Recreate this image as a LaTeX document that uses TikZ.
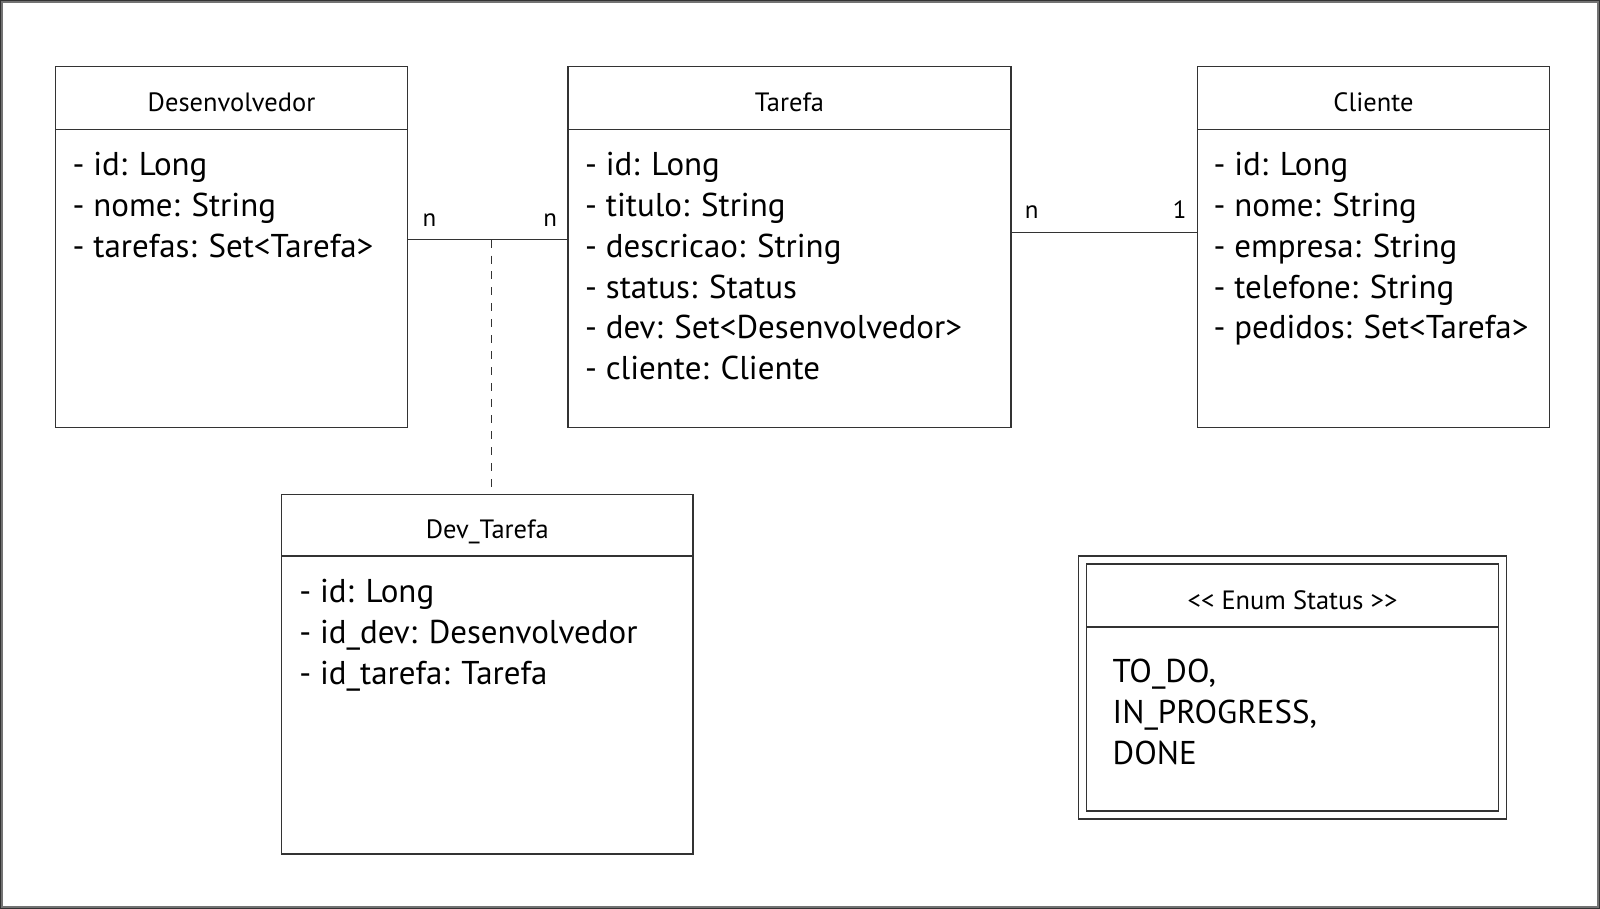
\documentclass[tikz,border=0pt]{standalone}
\usepackage{fontspec}
\setmainfont{PT Sans}
\usetikzlibrary{positioning}

\begin{document}
\begin{tikzpicture}[x = 1pt, y = -1pt, line width = 1.5pt,
    every path/.style = {draw = black!80},
    head/.style = {draw, inner sep = 0pt, outer sep = 0pt, anchor = north west, text height = 27pt, text depth = 0pt, font = \fontsize{26.5pt}{30pt}\selectfont},
    body/.style = {draw, inner sep = 0pt, outer sep = 0pt, below = 0pt of #1},
    attrs/.style = {align = left, inner sep = 0pt, outer sep = 0pt, font = \fontsize{33pt}{40.8pt}\selectfont},
    mult/.style = {anchor = base, inner sep = 0pt, font = \fontsize{25pt}{28pt}\selectfont}]
    \useasboundingbox (0, 0) rectangle (1600, 908);
    \draw [black!55, line width = 2pt] (1, 1) rectangle (1599, 907);
    \node [head, minimum width = 352pt, minimum height = 63pt] (dev) at (55, 66) {Desenvolvedor};
    \node [body = dev, minimum width = 352pt, minimum height = 298pt] (dev-b) {};
    \node [attrs, below right = 23pt and 17pt of dev-b.north west] (dev-a) {- id: Long\\- nome: String\\- tarefas: Set<Tarefa>};
    \node [head, minimum width = 443pt, minimum height = 63pt] (tar) at (568, 66) {Tarefa};
    \node [body = tar, minimum width = 443pt, minimum height = 298pt] (tar-b) {};
    \node [attrs, below right = 23pt and 17pt of tar-b.north west] (tar-a) {- id: Long\\- titulo: String\\- descricao: String\\- status: Status\\- dev: Set<Desenvolvedor>\\- cliente: Cliente};
    \node [head, minimum width = 352pt, minimum height = 63pt] (cli) at (1198, 66) {Cliente};
    \node [body = cli, minimum width = 352pt, minimum height = 298pt] (cli-b) {};
    \node [attrs, below right = 23pt and 16pt of cli-b.north west] (cli-a) {- id: Long\\- nome: String\\- empresa: String\\- telefone: String\\- pedidos: Set<Tarefa>};
    \node [head, minimum width = 412pt, minimum height = 62pt] (dvt) at (281, 494) {Dev\_Tarefa};
    \node [body = dvt, minimum width = 412pt, minimum height = 298pt] (dvt-b) {};
    \node [attrs, below right = 23pt and 18pt of dvt-b.north west] (dvt-a) {- id: Long\\- id\_dev: Desenvolvedor\\- id\_tarefa: Tarefa};
    \node [draw, outer sep = 0pt, anchor = north west, minimum width = 428pt, minimum height = 263pt] (st-o) at (1079, 556) {};
    \node [head, minimum width = 412pt, minimum height = 63pt] (st) at (1087, 564) {<\kern0pt< Enum Status >\kern0pt>};
    \node [body = st, minimum width = 412pt, minimum height = 184pt] (st-b) {};
    \node [attrs, below right = 32pt and 26pt of st-b.north west] (st-a) {TO\_DO,\\IN\_PROGRESS,\\DONE};
    \coordinate (dt) at (491, 239);
    \draw (dt -| dev-b.east) -- (dt -| tar-b.west);
    \draw [dash pattern = on 8pt off 8pt] (dt) -- (dt |- dvt.north);
    \node [mult] (dt-1) at (429, 226) {n};
    \node [mult] (dt-2) at (550, 226) {n};
    \coordinate (tc) at (1100, 232);
    \draw (tc -| tar-b.east) -- (tc -| cli-b.west);
    \node [mult] (tc-1) at (1032, 218) {n};
    \node [mult] (tc-2) at (1180, 218) {1};
\end{tikzpicture}
\end{document}
